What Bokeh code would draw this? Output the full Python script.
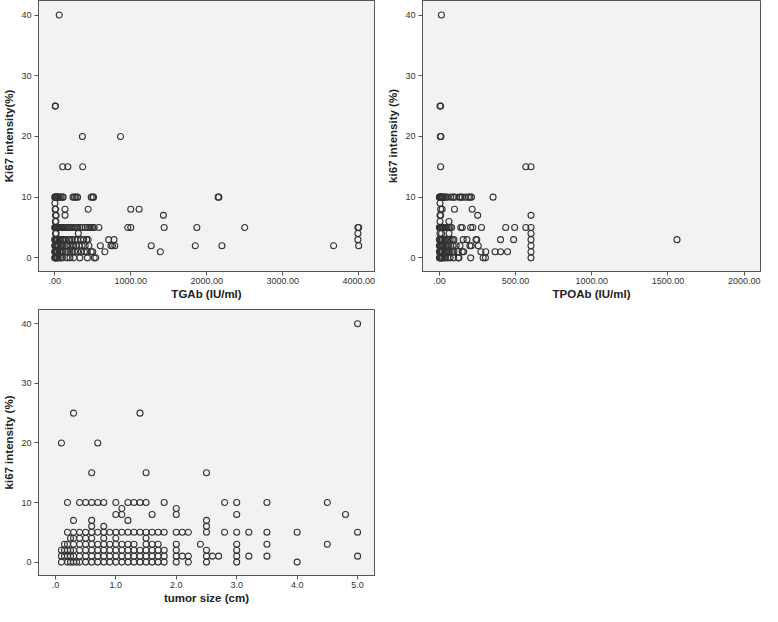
from bokeh.plotting import figure
from bokeh.layouts import column, row
from bokeh.models import FixedTicker, ColumnDataSource
from bokeh.embed import file_html
from bokeh.resources import INLINE

# ---------------- data ----------------
# Panel 1: TGAb (IU/ml) vs Ki67 intensity (%)
tgab_rows = {
    40: [59],
    25: [6, 10],
    20: [364, 866],
    15: [105, 172, 368],
    10: [0, 5, 10, 15, 20, 30, 40, 50, 60, 80, 100, 110, 240, 260, 280, 300, 480, 500, 510, 2150, 2160],
    9: [2],
    8: [5, 12, 135, 440, 1000, 1110],
    7: [10, 18, 135, 1430],
    6: [8, 15],
    5: [0, 5, 10, 15, 20, 25, 30, 40, 50, 60, 70, 80, 90, 100, 120, 140, 160, 180, 200, 220, 240,
        260, 280, 300, 330, 360, 400, 430, 460, 480, 500, 520, 580, 960, 1000, 1440, 1870, 2500, 3990, 4000],
    4: [10, 18, 310, 3990],
    3: [0, 5, 10, 15, 20, 30, 40, 60, 80, 100, 120, 140, 180, 200, 230, 270, 300, 340, 380, 420, 440, 710, 780, 3990],
    2: [0, 5, 10, 15, 20, 30, 40, 50, 70, 90, 110, 150, 170, 200, 230, 250, 280, 320, 360, 400, 450,
        600, 740, 760, 790, 1270, 1850, 2200, 3670, 4000],
    1: [0, 5, 10, 15, 20, 30, 40, 60, 80, 100, 140, 170, 200, 230, 260, 300, 350, 390, 420, 480, 500, 660, 1390],
    0: [0, 5, 10, 20, 30, 40, 60, 80, 100, 160, 200, 250, 330, 430, 520, 540],
}

# Panel 2: TPOAb (IU/ml) vs ki67 intensity (%)
tpoab_rows = {
    40: [13],
    25: [4, 8],
    20: [6, 10],
    15: [8, 567, 601],
    10: [0, 3, 6, 9, 12, 15, 20, 25, 30, 40, 50, 75, 90, 100, 130, 140, 150, 170, 190, 200, 210, 352],
    9: [4],
    8: [8, 18, 99, 215],
    7: [4, 8, 251, 601],
    6: [4, 63],
    5: [0, 3, 6, 9, 12, 15, 20, 25, 30, 40, 50, 60, 70, 80, 140, 150, 205, 219, 276, 435, 494, 567, 601],
    4: [4, 14, 63, 601],
    3: [0, 3, 6, 10, 15, 20, 30, 40, 55, 70, 85, 95, 156, 181, 240, 245, 401, 487, 601, 1559],
    2: [0, 3, 6, 10, 15, 20, 25, 30, 40, 50, 60, 75, 90, 110, 135, 200, 209, 255, 601],
    1: [0, 3, 6, 10, 15, 20, 30, 40, 50, 60, 70, 85, 95, 120, 150, 160, 272, 304, 365, 401, 447, 601],
    0: [0, 3, 6, 10, 15, 20, 30, 40, 55, 70, 93, 124, 128, 205, 287, 302, 601],
}

# Panel 3: tumor size (cm) vs ki67 intensity (%)
size_rows = {
    40: [5.0],
    25: [0.3, 1.4],
    20: [0.1, 0.7],
    15: [0.6, 1.5, 2.5],
    10: [0.2, 0.4, 0.5, 0.6, 0.7, 0.8, 1.0, 1.2, 1.3, 1.4, 1.5, 1.8, 2.8, 3.0, 3.5, 4.5],
    9: [1.1, 2.0],
    8: [1.0, 1.1, 1.6, 2.0, 3.0, 4.8],
    7: [0.3, 0.6, 1.2, 2.5],
    6: [0.6, 0.8, 2.5],
    5: [0.2, 0.3, 0.4, 0.5, 0.6, 0.7, 0.8, 0.9, 1.0, 1.1, 1.2, 1.3, 1.4, 1.5, 1.6, 1.7, 1.8,
        2.0, 2.1, 2.2, 2.5, 2.8, 3.0, 3.2, 3.5, 4.0, 5.0],
    4: [0.25, 0.3, 0.4, 0.5, 0.6, 0.8, 1.0, 1.5],
    3: [0.15, 0.2, 0.3, 0.4, 0.5, 0.6, 0.7, 0.8, 0.9, 1.0, 1.1, 1.2, 1.3, 1.5, 1.6, 1.7,
        2.0, 2.4, 3.0, 3.5, 4.5],
    2: [0.1, 0.15, 0.2, 0.25, 0.3, 0.4, 0.5, 0.6, 0.7, 0.8, 0.9, 1.0, 1.1, 1.2, 1.3, 1.4,
        1.5, 1.6, 1.7, 1.8, 2.0, 2.5, 3.0],
    1: [0.1, 0.15, 0.2, 0.25, 0.3, 0.4, 0.5, 0.6, 0.7, 0.8, 0.9, 1.0, 1.1, 1.2, 1.3, 1.4,
        1.5, 1.6, 1.7, 1.8, 2.0, 2.1, 2.2, 2.5, 2.6, 2.7, 3.0, 3.2, 3.5, 5.0],
    0: [0.1, 0.2, 0.25, 0.3, 0.35, 0.4, 0.5, 0.6, 0.7, 0.8, 0.9, 1.0, 1.1, 1.2, 1.3, 1.4,
        1.5, 1.6, 1.7, 1.8, 2.0, 2.2, 2.5, 3.0, 4.0],
}

y_ticks = [0, 10, 20, 30, 40]
tgab_ticks = [0, 1000, 2000, 3000, 4000]
tgab_labels = [".00", "1000.00", "2000.00", "3000.00", "4000.00"]
tpoab_ticks = [0, 500, 1000, 1500, 2000]
tpoab_labels = [".00", "500.00", "1000.00", "1500.00", "2000.00"]
size_ticks = [0, 1, 2, 3, 4, 5]
size_labels = [".0", "1.0", "2.0", "3.0", "4.0", "5.0"]

FONT = "Liberation Sans"


def flatten(rows):
    xs, ys = [], []
    for yv, xl in rows.items():
        for xv in xl:
            xs.append(xv)
            ys.append(yv)
    return xs, ys


def make_panel(rows, xr, xticks, xlabels, xtitle, ytitle, width, height, borders):
    p = figure(width=width, height=height, x_range=xr, y_range=(-2.25, 42.4),
               output_backend="svg", toolbar_location=None,
               background_fill_color="white", border_fill_color="white")
    p.min_border_left, p.min_border_right, p.min_border_top, p.min_border_bottom = borders
    p.background_fill_color = "#f2f2f2"
    p.outline_line_color = "#555555"
    p.outline_line_width = 1
    p.grid.visible = False
    xs, ys = flatten(rows)
    src = ColumnDataSource(dict(x=xs, y=ys))
    p.scatter("x", "y", source=src, size=6, marker="circle", fill_color=None,
              line_color="#333333", line_width=1.1)
    p.xaxis.ticker = FixedTicker(ticks=xticks)
    p.xaxis.major_label_overrides = {t: l for t, l in zip(xticks, xlabels)}
    p.yaxis.ticker = FixedTicker(ticks=y_ticks)
    p.xaxis.axis_label = xtitle
    p.yaxis.axis_label = ytitle
    for ax in (p.xaxis[0], p.yaxis[0]):
        ax.axis_line_color = "#555555"
        ax.major_tick_line_color = "#555555"
        ax.major_tick_out = 4
        ax.major_tick_in = 0
        ax.minor_tick_line_color = None
        ax.major_label_text_font = FONT
        ax.major_label_text_font_size = "9px"
        ax.major_label_text_color = "#333333"
        ax.major_label_standoff = 3
        ax.axis_label_text_font = FONT
        ax.axis_label_text_font_size = "11.5px"
        ax.axis_label_text_font_style = "bold"
        ax.axis_label_text_color = "#222222"
        ax.axis_label_standoff = 5
    p.yaxis[0].axis_label_standoff = 3
    p.xaxis[0].axis_label_standoff = 1
    p.xaxis[0].major_label_standoff = 2
    return p


p1 = make_panel(tgab_rows, (-214, 4208), tgab_ticks, tgab_labels, "TGAb (IU/ml)",
                "Ki67 intensity(%)", 384, 302, (5, 10, 0, 0))
p2 = make_panel(tpoab_rows, (-111, 2107), tpoab_ticks, tpoab_labels, "TPOAb (IU/ml)",
                "ki67 intensity (%)", 378, 302, (5, 2, 0, 0))
p3 = make_panel(size_rows, (-0.28, 5.28), size_ticks, size_labels, "tumor size (cm)",
                "ki67 intensity (%)", 384, 304, (5, 10, 7, 0))

layout = column(row(p1, p2), p3)

open("out.html", "w").write(file_html(layout, INLINE))
